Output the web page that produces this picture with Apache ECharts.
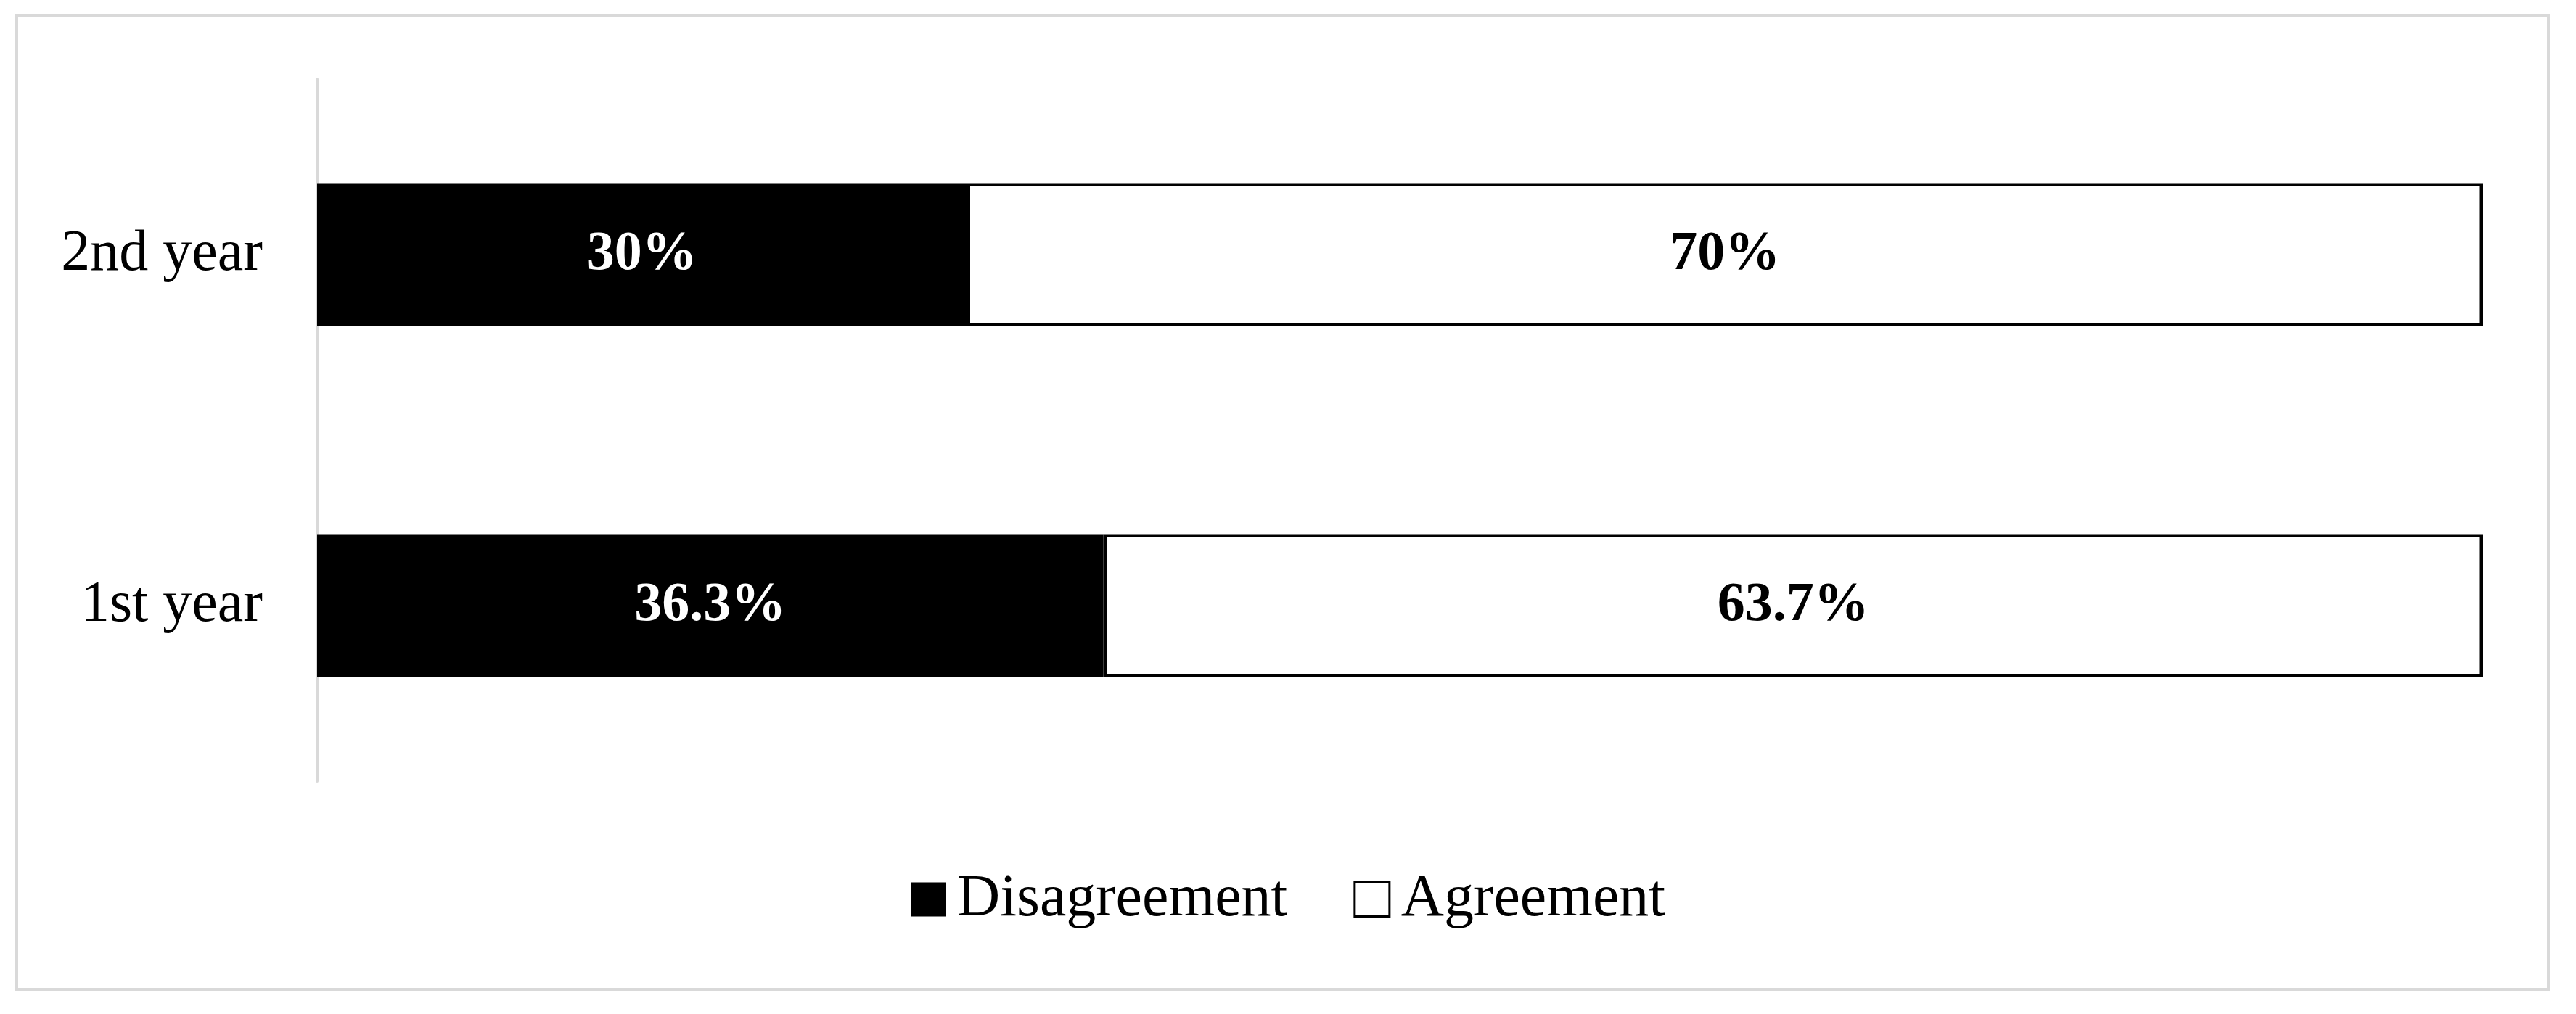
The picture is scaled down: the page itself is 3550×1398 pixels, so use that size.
<!DOCTYPE html>
<html><head><meta charset="utf-8">
<script src="https://cdn.jsdelivr.net/npm/echarts@6/dist/echarts.min.js"></script>
<style>html,body{margin:0;padding:0;background:#fff}#c{width:3550px;height:1398px}</style>
</head><body><div id="c"></div>
<script>
const categories = ['1st year', '2nd year'];
const disagreement = [36.3, 30];
const agreement = [63.7, 70];
const seriesNames = ['Disagreement', 'Agreement'];

const chart = echarts.init(document.getElementById('c'));
const font = '"Liberation Serif", "Times New Roman", serif';
const labelStyle = { show: true, position: 'inside', formatter: '{c}%', fontFamily: font, fontWeight: 'bold', fontSize: 76 };
chart.setOption({
  animation: false,
  backgroundColor: '#fff',
  graphic: [{ type: 'rect', silent: true, shape: { x: 23, y: 21, width: 3489, height: 1343 }, style: { fill: 'none', stroke: '#d9d9d9', lineWidth: 4 } }],
  grid: { left: 437, right: 3550 - 3422, top: 109, bottom: 1398 - 1077 },
  xAxis: { type: 'value', min: 0, max: 100, show: false },
  yAxis: {
    type: 'category', data: categories,
    axisLine: { lineStyle: { color: '#d9d9d9', width: 4 } },
    axisTick: { show: false },
    axisLabel: { fontFamily: font, fontSize: 80, color: '#000', margin: 75 }
  },
  legend: {
    left: 1250, top: 1194, itemWidth: 48, itemHeight: 47, itemGap: 91,
    textStyle: { fontFamily: font, fontSize: 82, color: '#000', padding: [0, 0, 0, 11] },
    data: [
      { name: seriesNames[0], icon: 'rect', itemStyle: { color: '#000', borderWidth: 0 } },
      { name: seriesNames[1], icon: 'rect', itemStyle: { color: '#fff', borderColor: '#000', borderWidth: 3 } }
    ]
  },
  series: [
    { name: seriesNames[0], type: 'bar', stack: 'a', data: disagreement, barWidth: 197,
      itemStyle: { color: '#000', borderColor: '#000', borderWidth: 4 },
      label: Object.assign({}, labelStyle, { color: '#fff' }) },
    { name: seriesNames[1], type: 'bar', stack: 'a', data: agreement, barWidth: 197,
      itemStyle: { color: '#fff', borderColor: '#000', borderWidth: 4.5 },
      label: Object.assign({}, labelStyle, { color: '#000' }) }
  ]
});
</script></body></html>
